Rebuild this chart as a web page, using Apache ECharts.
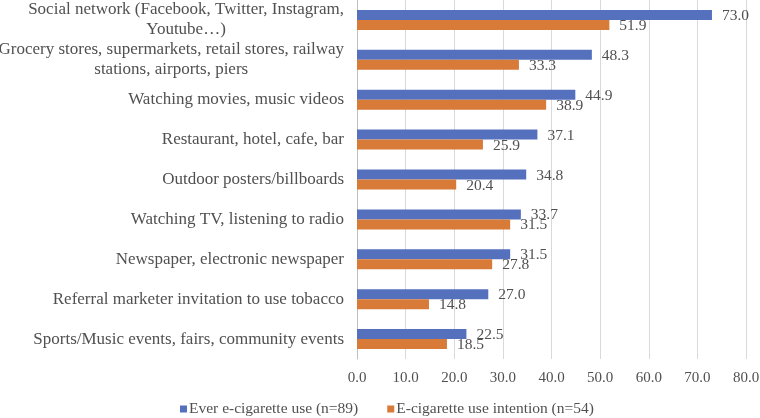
<!DOCTYPE html>
<html><head><meta charset="utf-8">
<script src="https://cdn.jsdelivr.net/npm/echarts@6/dist/echarts.min.js"></script>
<style>html,body{margin:0;padding:0;background:#fff}#c{width:760px;height:418px}</style>
</head><body><div id="c"></div>
<script>
const categories = [
  "Social network (Facebook, Twitter, Instagram,\nYoutube…)",
  "Grocery stores, supermarkets, retail stores, railway\nstations, airports, piers",
  "Watching movies, music videos",
  "Restaurant, hotel, cafe, bar",
  "Outdoor posters/billboards",
  "Watching TV, listening to radio",
  "Newspaper, electronic newspaper",
  "Referral marketer invitation to use tobacco",
  "Sports/Music events, fairs, community events"
];
const everUse = [73.0, 48.3, 44.9, 37.1, 34.8, 33.7, 31.5, 27.0, 22.5];
const intention = [51.9, 33.3, 38.9, 25.9, 20.4, 31.5, 27.8, 14.8, 18.5];
const seriesNames = ["Ever e-cigarette use (n=89)", "E-cigarette use intention (n=54)"];

const FONT = "Liberation Serif";
const TXT = "#505050";
const chart = echarts.init(document.getElementById('c'), null, {renderer: 'canvas'});
const lbl = {show: true, position: 'right', distance: 10, fontFamily: FONT, fontSize: 15.5, color: TXT,
  formatter: p => p.value.toFixed(1), offset: [0, 1]};
chart.setOption({
  animation: false,
  grid: {left: 357, right: 14, top: 0, bottom: 59, containLabel: false, outerBoundsMode: 'none'},
  legend: {
    bottom: -4, left: 175, itemWidth: 7, itemHeight: 7, itemGap: 29, icon: 'rect',
    textStyle: {fontFamily: FONT, fontSize: 15.5, color: TXT, padding: [0, 0, 0, -3]},
    data: seriesNames
  },
  xAxis: {
    type: 'value', min: 0, max: 80, interval: 10,
    axisLabel: {fontFamily: FONT, fontSize: 15, color: TXT, formatter: v => v.toFixed(1), margin: 12},
    axisLine: {show: false}, axisTick: {show: false},
    splitLine: {lineStyle: {color: '#d9d9d9', width: 1}}
  },
  yAxis: {
    type: 'category', inverse: true, data: categories,
    axisLine: {show: true, lineStyle: {color: '#bfbfbf'}}, axisTick: {show: false},
    axisLabel: {
      fontFamily: FONT, fontSize: 17, color: TXT, margin: 13, lineHeight: 20,
      formatter: v => v.indexOf('\n') >= 0 ? v.split('\n').map(s => '{c|' + s + '}').join('\n') : v,
      rich: {c: {align: 'center', fontFamily: FONT, fontSize: 17, color: TXT, lineHeight: 20}}
    }
  },
  series: [
    {name: seriesNames[0], type: 'bar', data: everUse, barWidth: 10, barGap: '0%',
     itemStyle: {color: '#5571BE'}, label: lbl},
    {name: seriesNames[1], type: 'bar', data: intention, barWidth: 10, barGap: '0%',
     itemStyle: {color: '#D87A38'}, label: lbl}
  ]
});
</script></body></html>
